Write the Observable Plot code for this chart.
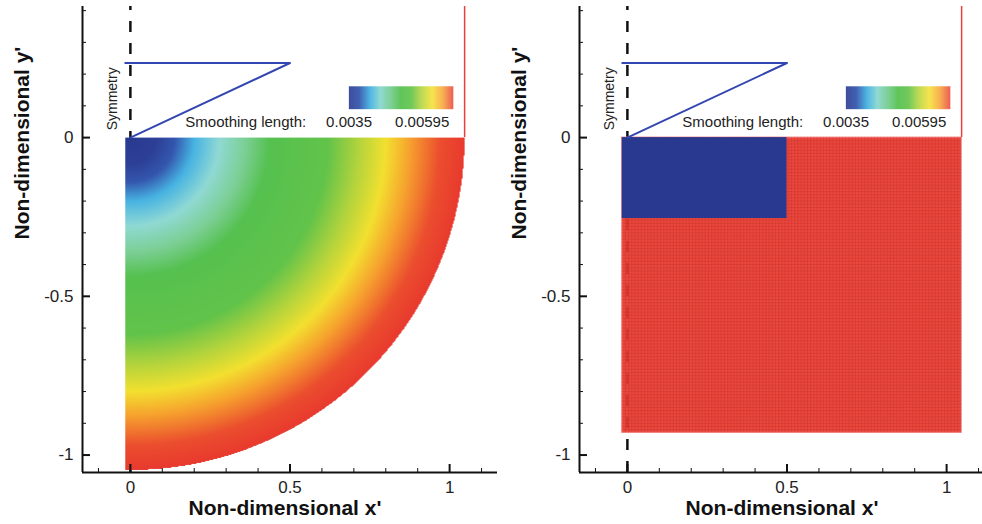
<!DOCTYPE html>
<html><head><meta charset="utf-8">
<script src="https://cdn.jsdelivr.net/npm/d3@7"></script>
<script src="https://cdn.jsdelivr.net/npm/@observablehq/plot@0.6"></script>
<style>
html,body{margin:0;padding:0;background:#fff;overflow:hidden;}
#wrap{position:relative;width:982px;height:524px;overflow:hidden;background:#fff;}
#wrap svg{position:absolute;top:0;}
</style></head><body><div id="wrap"></div>
<script>
// ---------- data ----------
const xMajorTicks = [0, 0.5, 1];
const xMinorTicks = [-0.1, 0.1, 0.2, 0.3, 0.4, 0.6, 0.7, 0.8, 0.9, 1.1];
const yMajorTicks = [0, -0.5, -1];
const yMinorTicks = [0.4, 0.3, 0.2, 0.1, -0.1, -0.2, -0.3, -0.4, -0.6, -0.7, -0.8, -0.9];

const legendLevels = [0.0035, 0.003745, 0.00399, 0.004235, 0.00448, 0.004725, 0.00497, 0.005215, 0.00546, 0.005705, 0.00595];
const legendColors = ["#2a3990", "#3456ad", "#47b3e2", "#90d9d4", "#7ccf95", "#55c14f", "#62c34a", "#b5d43c", "#f3e02f", "#f6a02e", "#e8392e"];
const legendTitle = "Smoothing length:";
const legendTickLabels = ["0.0035", "0.00595"];

// smoothing length vs. radius (left panel, radial field)
const fieldRadius    = [0, 0.08, 0.14, 0.20, 0.28, 0.36, 0.44, 0.62, 0.72, 0.80, 0.88, 0.97, 1.05];
const fieldSmoothing = [0.0035, 0.00355, 0.00375, 0.00399, 0.00424, 0.00448, 0.00473, 0.00497, 0.00522, 0.00546, 0.00571, 0.0059, 0.00595];

const domainRadius = 1.047;   // outer boundary of the particle domain
const domainLeft = -0.016;    // left edge of particle domain

// inlet velocity profile (blue polyline)
const profileX = [0, 0.5, -0.016];
const profileY = [0, 0.235, 0.235];

// right panel: rectangular blocks with constant smoothing length
const blockNames = ["coarse", "fine"];
const blockX1 = [-0.016, -0.016];
const blockX2 = [1.047, 0.5];
const blockY1 = [-0.93, -0.255];
const blockY2 = [0, 0];
const blockH  = [0.00595, 0.0035];
const meshSpacing = 0.01;

const xLabel = "Non-dimensional x'";
const yLabel = "Non-dimensional y'";
const symmetryLabel = "Symmetry";

// ---------- layout (positions, not data) ----------
const W = 497, H = 524;
const xDomain = [-0.15, 1.15];
const yDomain = [-1.055, 0.413];
const legendBox = {x1: 0.686, x2: 1.013, y1: 0.088, y2: 0.160};
const legendTextY = 0.049;
const legendTitleX = 0.172;
const legendTickX = [0.685, 0.914];
const symmetryPos = {x: -0.056, y: 0.122};
const FONT = "'Liberation Sans', Arial, Helvetica, sans-serif";

const radialH = d3.scaleLinear().domain(fieldRadius).range(fieldSmoothing).clamp(true);

const nCells = 104;
const legendCells = d3.range(nCells).map(i => {
  const t0 = i / nCells, t1 = (i + 1) / nCells;
  return {
    x1: legendBox.x1 + t0 * (legendBox.x2 - legendBox.x1),
    x2: legendBox.x1 + t1 * (legendBox.x2 - legendBox.x1),
    h: legendLevels[0] + (t0 + 0.5 / nCells) * (legendLevels[legendLevels.length - 1] - legendLevels[0])
  };
});

const profile = profileX.map((x, i) => ({x, y: profileY[i]}));
const blocks = blockNames.map((name, i) => ({name, x1: blockX1[i], x2: blockX2[i], y1: blockY1[i], y2: blockY2[i], h: blockH[i]}));

function commonMarks() {
  return [
    Plot.ruleX([xDomain[0]], {stroke: "#111", strokeWidth: 2}),
    Plot.ruleY([yDomain[0]], {stroke: "#111", strokeWidth: 2}),
    Plot.axisY({ticks: yMajorTicks, anchor: "left", tickSize: 8, dx: 8, tickPadding: 9, tickFormat: d => String(d), fontSize: 17, label: null, stroke: "#111", strokeWidth: 2, fill: "#222"}),
    Plot.axisY({ticks: yMinorTicks, anchor: "left", tickSize: 4, dx: 4, label: null, stroke: "#111", strokeWidth: 1, fill: "none"}),
    Plot.axisX({ticks: xMajorTicks, anchor: "bottom", tickSize: 8, dy: -8, tickPadding: 8, tickFormat: d => String(d), fontSize: 17, label: null, stroke: "#111", strokeWidth: 2, fill: "#222"}),
    Plot.axisX({ticks: xMinorTicks, anchor: "bottom", tickSize: 4, dy: -4, label: null, stroke: "#111", strokeWidth: 1, fill: "none"}),
    Plot.text([xLabel], {frameAnchor: "bottom", dy: 42, fontSize: 21, fontWeight: "bold", fill: "#111", dx: -5}),
    Plot.text([yLabel], {frameAnchor: "left", dx: -60, rotate: -90, fontSize: 21, fontWeight: "bold", fill: "#111"}),
    Plot.line(profile, {x: "x", y: "y", stroke: "#3345b0", strokeWidth: 2}),
    Plot.text([symmetryLabel], {x: () => symmetryPos.x, y: () => symmetryPos.y, rotate: -90, fontSize: 14, fill: "#222"}),
    Plot.rect(legendCells, {x1: "x1", x2: "x2", y1: () => legendBox.y1, y2: () => legendBox.y2, fill: "h"}),
    Plot.text([legendTitle], {x: () => legendTitleX, y: () => legendTextY, textAnchor: "start", fontSize: 15, fill: "#222"}),
    Plot.text(legendTickLabels, {x: (d, i) => legendTickX[i], y: () => legendTextY, fontSize: 15, fill: "#222"}),
    Plot.ruleX([domainRadius], {y1: 0, y2: yDomain[1], stroke: "#e8403c", strokeWidth: 1.5})
  ];
}

function symmetryLine() {
  return Plot.ruleX([0], {y1: yDomain[0], y2: yDomain[1], stroke: "#111", strokeWidth: 2.5, strokeDasharray: "11,11"});
}

function makePlot(fieldMarks) {
  return Plot.plot({
    width: W, height: H,
    marginLeft: 82, marginRight: 0, marginTop: 6, marginBottom: 52,
    x: {domain: xDomain},
    y: {domain: yDomain},
    color: {type: "linear", domain: legendLevels, range: legendColors, interpolate: "rgb"},
    style: {fontFamily: FONT, background: "transparent", overflow: "visible", maxWidth: "none"},
    marks: [symmetryLine(), ...fieldMarks, ...commonMarks()]
  });
}

const leftField = [
  Plot.raster({
    x1: domainLeft, x2: domainRadius, y1: -domainRadius, y2: 0,
    pixelSize: 1,
    fill: (x, y) => {
      const r = Math.hypot(Math.max(x, 0), y);
      return r <= domainRadius ? radialH(r) : NaN;
    }
  })
];

const coarse = blocks.filter(d => d.name === "coarse");
const fine = blocks.filter(d => d.name === "fine");
const c = coarse[0];
const meshX = d3.range(c.x1 + meshSpacing, c.x2, meshSpacing);
const meshY = d3.range(c.y2 - meshSpacing, c.y1, -meshSpacing);
const rightField = [
  Plot.rect(coarse, {x1: "x1", x2: "x2", y1: "y1", y2: "y2", fill: "h", fillOpacity: 0.93, stroke: "#f07a78", strokeWidth: 1}),
  Plot.ruleX(meshX, {y1: c.y1, y2: c.y2, stroke: "#a8201c", strokeOpacity: 0.3, strokeWidth: 0.7}),
  Plot.ruleY(meshY, {x1: c.x1, x2: c.x2, stroke: "#a8201c", strokeOpacity: 0.3, strokeWidth: 0.7}),
  Plot.rect(fine, {x1: "x1", x2: "x2", y1: "y1", y2: "y2", fill: "h"})
];

const wrap = document.getElementById("wrap");
const left = makePlot(leftField);
left.style.left = "0px";
wrap.appendChild(left);
const right = makePlot(rightField);
right.style.left = "497px";
wrap.appendChild(right);
</script>
</body></html>
